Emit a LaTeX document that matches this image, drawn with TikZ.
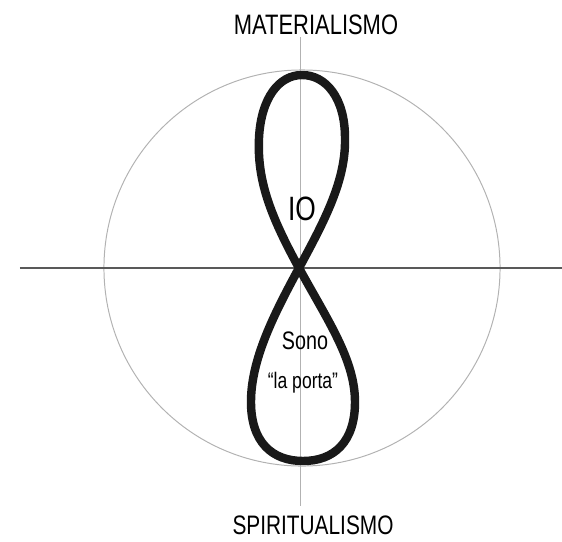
\documentclass[tikz,border=0pt]{standalone}
\usepackage{fontspec}
\setmainfont{Liberation Sans}
\begin{document}
\begin{tikzpicture}[x=0.025cm,y=-0.025cm,
  axis/.style={line width=1.1pt,black!65},
  faint/.style={line width=0.7pt,black!30},
  loopeight/.style={line width=6pt,black!90,line join=round},
  hand/.style={inner sep=0pt,xscale=0.78,transform shape}]
\useasboundingbox (0,0) rectangle (562,542);
\coordinate (o) at (299,268);
\coordinate (c) at (302,268);
\coordinate (w) at (20,268);
\coordinate (e) at (562,268);
\coordinate (n) at (300,37);
\coordinate (s) at (300,506);
\draw[faint] (c) circle[radius=4.95cm];
\draw[faint] (n) -- (s);
\draw[axis] (w) -- (e);
% the eight through the centre
\draw[loopeight] (o) .. controls (270,215) and (257,180) .. (259,138)
   .. controls (261,98) and (279,75) .. (302,75)
   .. controls (326,75) and (345,98) .. (345,138)
   .. controls (346,180) and (325,220) .. (o)
   .. controls (273,316) and (251,360) .. (251,402)
   .. controls (251,442) and (272,461) .. (303,461)
   .. controls (334,461) and (355,442) .. (355,402)
   .. controls (355,360) and (328,321) .. cycle;
\node[hand,font=\fontsize{20}{20}\selectfont] (mat) at (316,25) {MATERIALISMO};
\node[hand,font=\fontsize{19}{19}\selectfont] (spi) at (313,525) {SPIRITUALISMO};
\node[hand,font=\fontsize{24}{24}\selectfont] (io) at (302,209) {IO};
\node[hand,font=\fontsize{18}{18}\selectfont] (sono) at (305,341) {Sono};
\node[hand,font=\fontsize{16}{16}\selectfont] (porta) at (303,383) {“la porta”};
\end{tikzpicture}
\end{document}
